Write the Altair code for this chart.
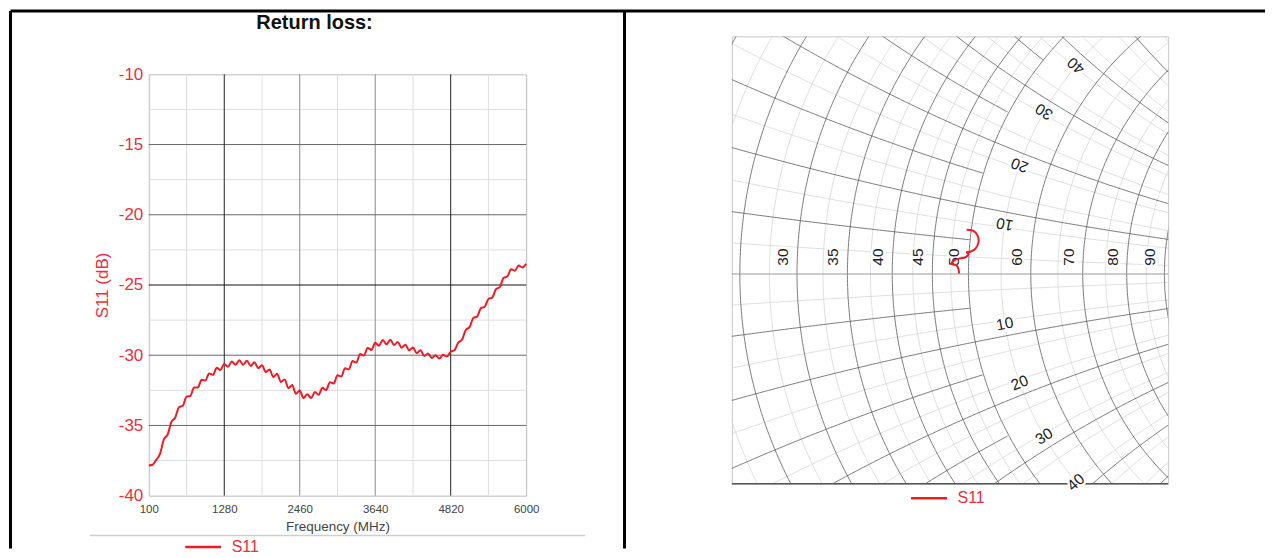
import math
import numpy as np
import pandas as pd
import altair as alt

FONT = "Liberation Sans"
RED = "#ee1c25"
RED_TXT = "#e8313f"

# ---------------- Return loss data ----------------
FREQ_MHZ = [100 + 59 * k for k in range(101)]
S11_DB = [
    -37.85, -37.80, -37.45, -37.00, -36.00, -35.65, -34.75, -34.45, -33.70, -33.60,
    -32.95, -32.90, -32.30, -32.30, -31.75, -31.80, -31.30, -31.40, -30.90, -31.05,
    -30.62, -30.82, -30.45, -30.68, -30.35, -30.68, -30.40, -30.76, -30.50, -30.92,
    -30.72, -31.20, -31.02, -31.55, -31.32, -31.90, -31.72, -32.35, -32.12, -32.75,
    -32.52, -33.05, -32.78, -33.05, -32.62, -32.82, -32.32, -32.48, -31.92, -32.02,
    -31.42, -31.52, -30.92, -31.02, -30.42, -30.52, -29.92, -30.02, -29.48, -29.62,
    -29.12, -29.32, -28.92, -29.22, -28.90, -29.27, -29.05, -29.47, -29.25, -29.66,
    -29.45, -29.86, -29.64, -30.05, -29.87, -30.20, -30.00, -30.24, -29.97, -30.10,
    -29.75, -29.65, -29.10, -28.90, -28.20, -28.00, -27.35, -27.25, -26.65, -26.55,
    -26.00, -25.90, -25.30, -25.15, -24.50, -24.40, -23.88, -23.98, -23.62, -23.75,
    -23.50,
]
X_TICKS = [100, 1280, 2460, 3640, 4820, 6000]
Y_TICKS = [-10, -15, -20, -25, -30, -35, -40]
X_GRID_DARK = [1280, 4820]
X_GRID_MID = [2460, 3640]
X_GRID_MINOR = [690, 1870, 3050, 4230, 5410]
Y_GRID_DARK = [-25]
Y_GRID_MID = [-15, -20, -30, -35]
Y_GRID_MINOR = [-12.5, -17.5, -22.5, -27.5, -32.5, -37.5]

# ---------------- Smith chart data ----------------
Z0 = 50
SMITH_RE = [-0.0135, -0.0146, -0.0170, -0.0243, -0.0218, -0.0121, -0.0048, 0.0000,
            -0.0025, 0.0025, 0.0098, 0.0146, 0.0135, 0.0073, -0.0025]
SMITH_IM = [0.0007, 0.0073, 0.0121, 0.0146, 0.0194, 0.0229, 0.0243, 0.0291,
            0.0316, 0.0325, 0.0364, 0.0461, 0.0557, 0.0630, 0.0645]
R_LABELS_OHM = [30, 35, 40, 45, 50, 60, 70, 80, 90]
X_LABELS_OHM = [10, 20, 30, 40]
R_MAJOR_OHM = [20, 25, 30, 35, 40, 45, 50, 60, 70, 80, 90, 100]
R_MINOR_OHM = [22.5, 27.5, 32.5, 37.5, 42.5, 47.5, 55, 65, 75, 85, 95]
X_MAJOR_FULL_OHM = [10, 20, 30, 40, 50, 60, 70]
X_MAJOR_INNER_OHM = [5, 15, 25, 35, 45]          # these stop at the 50-ohm circle
X_MINOR_OHM = [2.5, 7.5, 12.5, 17.5, 22.5, 27.5, 32.5, 37.5, 42.5, 47.5, 55, 65]

U_MIN, U_MAX = -0.3450, 0.2912
V_MIN, V_MAX = -0.3057, 0.3464
PX = 687.0  # pixels per unit of reflection coefficient


def arc_frame(cu, cv, R, th0, key, inner_only=False):
    n = min(int(2 * math.pi * R / 0.002) + 1, 200000)
    th = th0 + np.linspace(0, 2 * math.pi, n, endpoint=False)
    u = cu + R * np.cos(th)
    v = cv + R * np.sin(th)
    m = (u > U_MIN - 0.02) & (u < U_MAX + 0.02) & (v > V_MIN - 0.02) & (v < V_MAX + 0.02)
    if inner_only:
        rr = (1 - u ** 2 - v ** 2) / ((1 - u) ** 2 + v ** 2)
        m &= rr <= 1.0
    return pd.DataFrame({"u": u[m], "v": v[m], "i": np.arange(m.sum()), "g": key})


def r_circles(ohms):
    frames = []
    for r in ohms:
        rn = r / Z0
        frames.append(arc_frame(rn / (1 + rn), 0.0, 1 / (1 + rn), 0.0, f"r{r}"))
    return pd.concat(frames, ignore_index=True)


def x_arcs(ohms, inner_only=False):
    frames = []
    for x in ohms:
        xn = x / Z0
        frames.append(arc_frame(1.0, 1 / xn, 1 / xn, -math.pi / 2, f"x{x}", inner_only))
        frames.append(arc_frame(1.0, -1 / xn, 1 / xn, math.pi / 2, f"x-{x}", inner_only))
    return pd.concat(frames, ignore_index=True)


u_scale = alt.Scale(domain=[U_MIN, U_MAX], nice=False, zero=False)
v_scale = alt.Scale(domain=[V_MIN, V_MAX], nice=False, zero=False)
U = alt.X("u:Q", scale=u_scale, axis=None)
V = alt.Y("v:Q", scale=v_scale, axis=None)


def grid_layer(df, color, width):
    return alt.Chart(df).mark_line(clip=True, color=color, strokeWidth=width).encode(
        x=U, y=V, detail="g:N", order="i:Q")


minor_r = grid_layer(r_circles(R_MINOR_OHM), "#d6d6d6", 0.8)
minor_x = grid_layer(x_arcs(X_MINOR_OHM), "#d6d6d6", 0.8)
major_r = grid_layer(r_circles(R_MAJOR_OHM), "#555555", 0.8)
major_x = grid_layer(x_arcs(X_MAJOR_FULL_OHM), "#555555", 0.8)
major_x_in = grid_layer(x_arcs(X_MAJOR_INNER_OHM, inner_only=True), "#555555", 0.8)

axis_line = alt.Chart(pd.DataFrame({"v": [0.0]})).mark_rule(color="#9a9a9a", strokeWidth=1).encode(y=V)
bottom_line = alt.Chart(pd.DataFrame({"v": [V_MIN]})).mark_rule(color="#555555", strokeWidth=1.5).encode(y=V)

# resistance labels (just left of where each circle crosses the real axis)
rl = []
for r in R_LABELS_OHM:
    rn = r / Z0
    rl.append({"u": (rn - 1) / (rn + 1) - 14 / PX, "v": 17 / PX, "t": str(r)})
r_lab_df = pd.DataFrame(rl)
r_text_kw = dict(font=FONT, fontSize=15.5, angle=270, align="center", baseline="middle")
r_halo = alt.Chart(r_lab_df).mark_text(color="white", stroke="white", strokeWidth=5, **r_text_kw).encode(x=U, y=V, text="t:N")
r_text = alt.Chart(r_lab_df).mark_text(color="#222222", **r_text_kw).encode(x=U, y=V, text="t:N")

# reactance labels beside each arc, near the 55-ohm circle, on the real-axis side
xl = []
for x in X_LABELS_OHM:
    xn = x / Z0
    for sgn in (1, -1):
        z = complex(1.1, sgn * xn)
        g = (z - 1) / (z + 1)
        cu, cv = 1.0, sgn / xn
        du, dv = g.real - cu, g.imag - cv
        dl = math.hypot(du, dv)
        pu = g.real + du / dl * 12 / PX
        pv = g.imag + dv / dl * 12 / PX
        tu, tv = -dv, du
        if tu < 0:
            tu, tv = -tu, -tv
        ang = math.degrees(math.atan2(-tv, tu))
        if sgn > 0:
            ang += 180
        xl.append({"u": pu, "v": pv, "t": str(x), "a": ang % 360})
x_lab_df = pd.DataFrame(xl)
x_text_kw = dict(font=FONT, fontSize=15.5, align="center", baseline="middle")
x_halo = alt.Chart(x_lab_df).mark_text(color="white", stroke="white", strokeWidth=5, **x_text_kw).encode(
    x=U, y=V, text="t:N", angle=alt.Angle("a:Q", scale=None))
x_text = alt.Chart(x_lab_df).mark_text(color="#222222", **x_text_kw).encode(
    x=U, y=V, text="t:N", angle=alt.Angle("a:Q", scale=None))

smith_df = pd.DataFrame({"u": SMITH_RE, "v": SMITH_IM, "i": range(len(SMITH_RE)), "s": "S11"})
smith_trace = alt.Chart(smith_df).mark_line(strokeWidth=2, interpolate="catmull-rom").encode(
    x=U, y=V, order="i:Q",
    color=alt.Color("s:N", scale=alt.Scale(domain=["S11"], range=[RED]),
                    legend=alt.Legend(orient="none", legendX=178, legendY=443, title=None,
                                      symbolType="stroke", symbolSize=1296, symbolStrokeWidth=2.5,
                                      labelColor=RED_TXT, labelFontSize=16, labelFont=FONT,
                                      labelOffset=9, padding=0)))

right = alt.layer(minor_r, minor_x, major_r, major_x, major_x_in, axis_line, bottom_line,
                  r_halo, r_text, x_halo, x_text, smith_trace).properties(
    width=437, height=448, view=alt.ViewBackground(stroke="#c8c8c8", strokeWidth=1))

# ---------------- Left chart ----------------
x_scale = alt.Scale(domain=[100, 6000], nice=False, zero=False)
y_scale = alt.Scale(domain=[-40, -10], nice=False, zero=False)
x_axis = alt.Axis(values=X_TICKS, grid=False, ticks=False, domain=False, labelColor="#444444",
                  labelFontSize=11.5, labelFont=FONT, labelPadding=8, labelFlush=False,
                  labelExpr="'' + datum.value",
                  title="Frequency (MHz)", titleColor="#444444", titleFontSize=13.5,
                  titleFont=FONT, titleFontWeight="normal", titlePadding=4)
y_axis = alt.Axis(values=Y_TICKS, grid=False, ticks=False, domain=False, labelColor=RED_TXT,
                  labelFontSize=17, labelFont=FONT, labelPadding=6, labelFlush=False,
                  labelExpr="'' + datum.value",
                  title="S11 (dB)", titleColor=RED_TXT, titleFontSize=17, titleFont=FONT,
                  titleFontWeight="normal", titlePadding=7)
FX = alt.X("f:Q", scale=x_scale, axis=x_axis)
FY = alt.Y("db:Q", scale=y_scale, axis=y_axis)


def vrules(vals, color, width):
    return alt.Chart(pd.DataFrame({"f": vals})).mark_rule(color=color, strokeWidth=width).encode(x=FX)


def hrules(vals, color, width):
    return alt.Chart(pd.DataFrame({"db": vals})).mark_rule(color=color, strokeWidth=width).encode(y=FY)


s11_df = pd.DataFrame({"f": FREQ_MHZ, "db": S11_DB, "s": "S11"})
s11_line = alt.Chart(s11_df).mark_line(strokeWidth=2, interpolate="monotone").encode(
    x=FX, y=FY,
    color=alt.Color("s:N", scale=alt.Scale(domain=["S11"], range=[RED]),
                    legend=alt.Legend(orient="none", legendX=35, legendY=454, title=None,
                                      symbolType="stroke", symbolSize=1296, symbolStrokeWidth=2.5,
                                      labelColor=RED_TXT, labelFontSize=16, labelFont=FONT,
                                      labelOffset=9, padding=0)))

# table borders and separator (page decoration)
borders = alt.Chart(pd.DataFrame({"k": [0]})).mark_rule(color="black", strokeWidth=3)
top_border = borders.encode(x=alt.value(-138.5), x2=alt.value(1118), y=alt.value(-63.5))
left_border = borders.encode(x=alt.value(-138.5), y=alt.value(-63.5), y2=alt.value(475))
mid_border = borders.encode(x=alt.value(476.5), y=alt.value(-63.5), y2=alt.value(475))
separator = alt.Chart(pd.DataFrame({"k": [0]})).mark_rule(color="#cfcfcf", strokeWidth=1.5).encode(
    x=alt.value(-59), x2=alt.value(437), y=alt.value(462))

left = alt.layer(
    vrules(X_GRID_MINOR, "#dedede", 1), hrules(Y_GRID_MINOR, "#dedede", 1),
    vrules(X_GRID_MID, "#8a8a8a", 1), hrules(Y_GRID_MID, "#666666", 1),
    vrules(X_GRID_DARK, "#222222", 1), hrules(Y_GRID_DARK, "#111111", 1.2),
    s11_line, separator, top_border, left_border, mid_border,
).properties(width=378, height=422, view=alt.ViewBackground(stroke="#bbbbbb", strokeWidth=1))

title_chart = alt.Chart(pd.DataFrame({"t": ["Return loss:"]})).mark_text(
    font=FONT, fontSize=20, fontWeight="bold", color="#111111", align="center", baseline="middle"
).encode(text="t:N", x=alt.value(166), y=alt.value(-13)).properties(
    width=378, height=38, view=alt.ViewBackground(stroke=None))

left_col = alt.vconcat(title_chart, left, spacing=0, bounds="flush").resolve_scale(color="independent")

chart = alt.hconcat(left_col, right, spacing=584, bounds="flush").resolve_scale(
    color="independent").resolve_legend(color="independent").properties(
    padding=0, background="white").configure_view(stroke=None)

chart.save("out.html", embed_options={"renderer": "svg", "actions": False})
